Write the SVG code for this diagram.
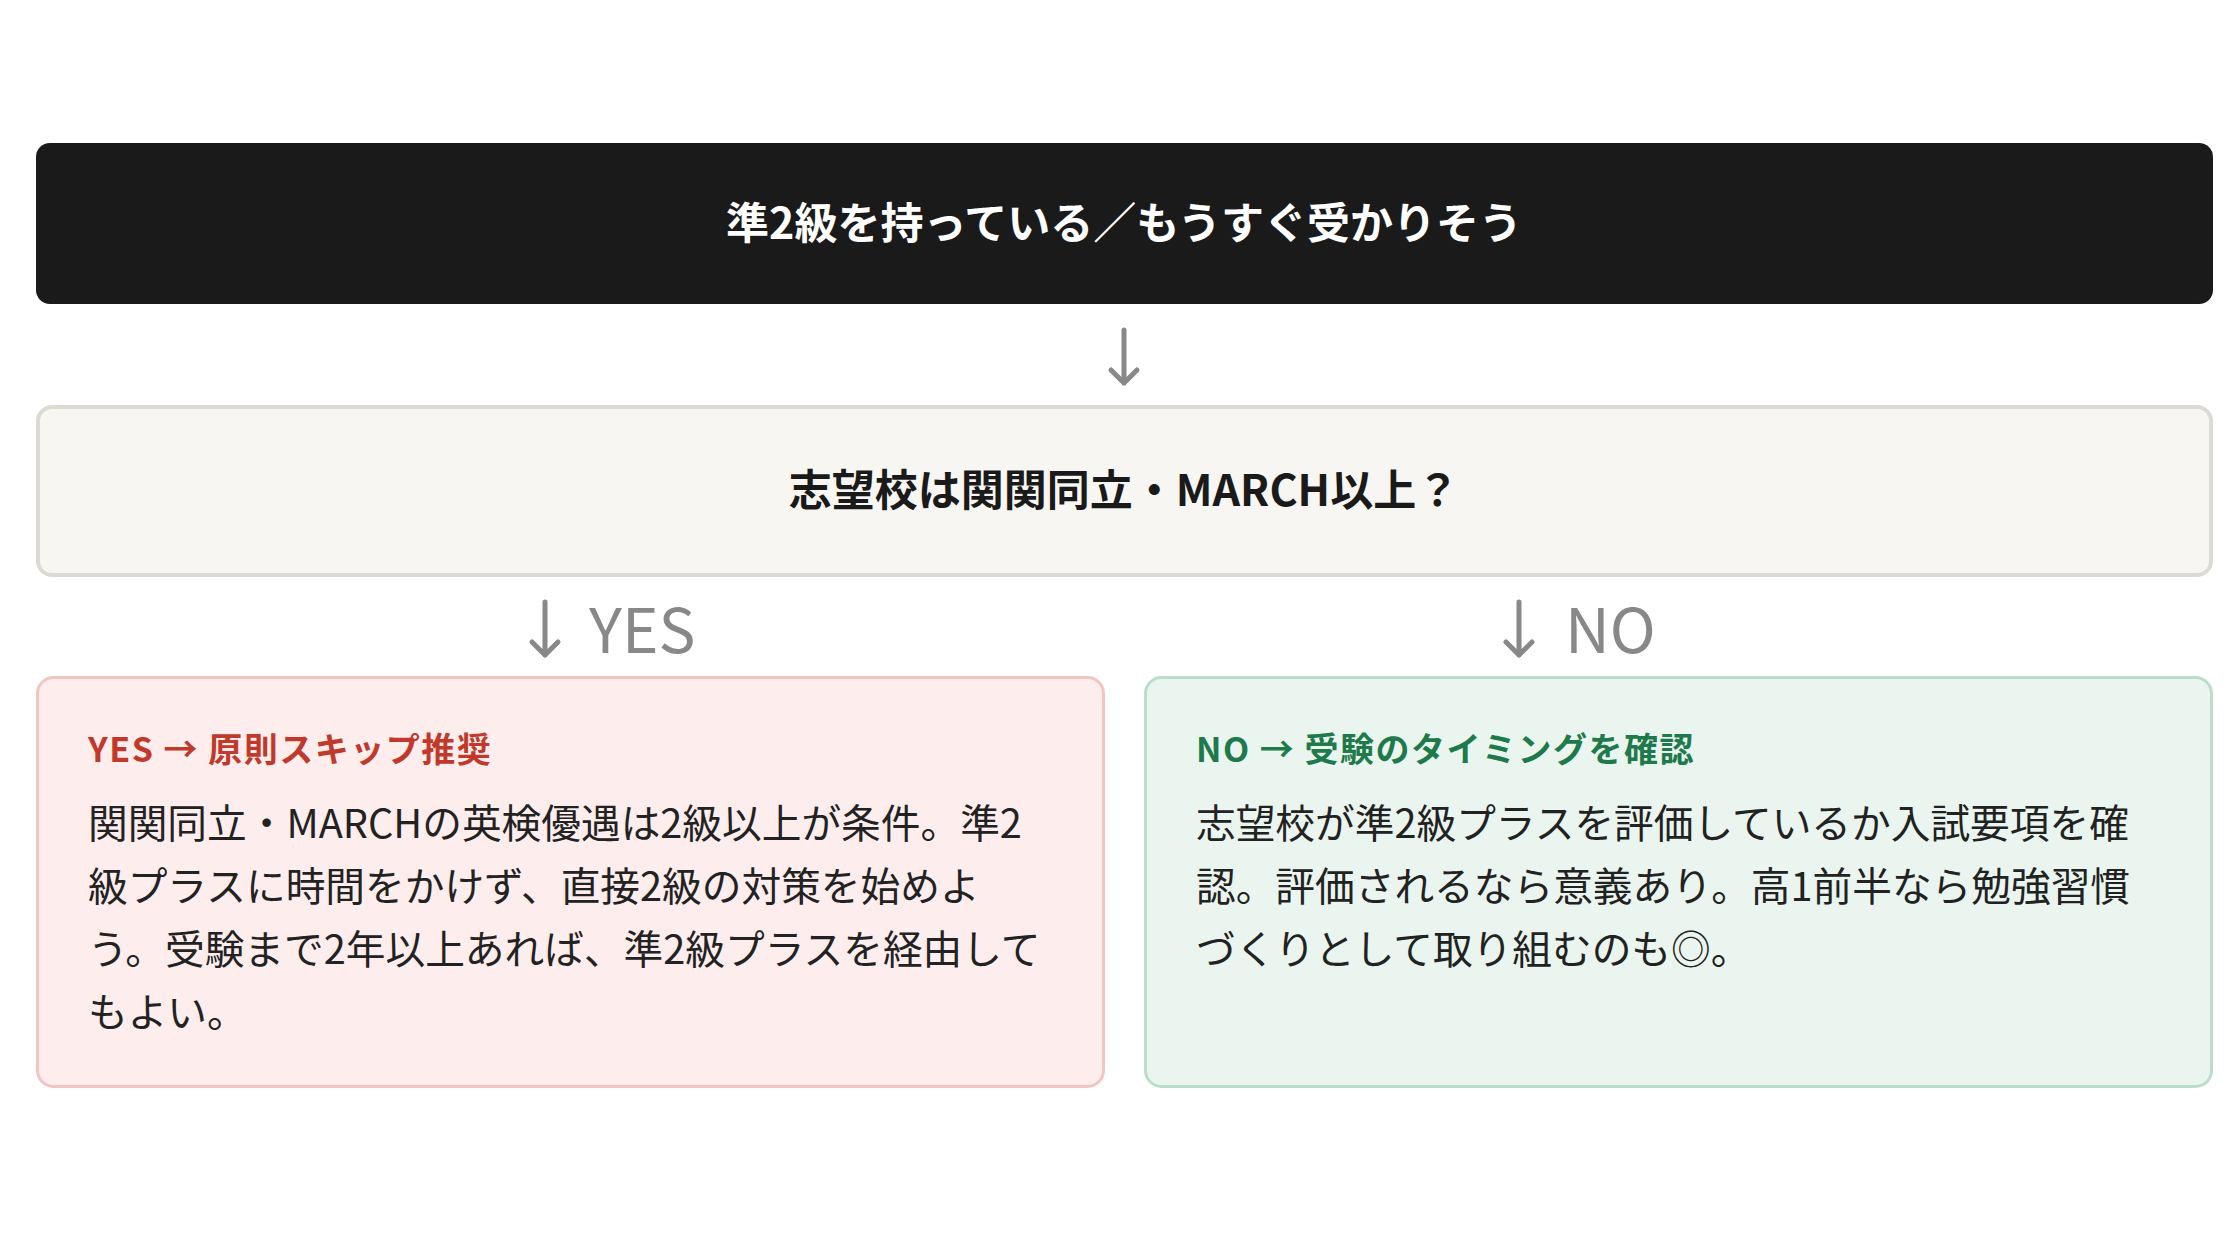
<svg xmlns="http://www.w3.org/2000/svg" width="2240" height="1260" viewBox="0 0 2240 1260">
<style>
text { font-family: "Noto Sans CJK JP", "Noto Sans", sans-serif; }
.head { font-size: 43px; font-weight: 700; fill: #ffffff; }
.q { font-size: 43px; font-weight: 700; fill: #1a1a1a; }
.lbl { font-size: 62px; fill: #888888; }
.ttl { font-size: 34px; font-weight: 700; letter-spacing: 1.5px; }
.body { font-size: 39.7px; fill: #222222; }
.conn { stroke: #888888; stroke-width: 5; fill: none; stroke-linecap: round; stroke-linejoin: round; }
</style>
<rect width="2240" height="1260" fill="#ffffff"/>
<g id="start">
<rect x="36" y="143" width="2177" height="161" rx="14" fill="#1a1a1a"/>
<text class="head" x="1124" y="239" text-anchor="middle">準2級を持っている／もうすぐ受かりそう</text>
</g>
<g id="question">
<rect x="38" y="407" width="2173" height="168" rx="14" fill="#f7f6f2" stroke="#dcdad4" stroke-width="4"/>
<text class="q" x="1124" y="506" text-anchor="middle">志望校は関関同立・MARCH以上？</text>
</g>
<g id="connectors">
<path class="conn" d="M1124 330 V383 M1111 370 L1124 383 L1137 370"/>
<path class="conn" d="M545 602 V655 M532 642 L545 655 L558 642"/>
<path class="conn" d="M1519 602 V655 M1506 642 L1519 655 L1532 642"/>
<text class="lbl" x="589" y="653">YES</text>
<text class="lbl" x="1565" y="653">NO</text>
</g>
<g id="yes">
<rect x="37.5" y="677.5" width="1066" height="409" rx="16" fill="#fdeded" stroke="#f2c5c5" stroke-width="3"/>
<text class="ttl" x="88" y="762" fill="#c0392b">YES → 原則スキップ推奨</text>
<text class="body" x="88" y="838">関関同立・MARCHの英検優遇は2級以上が条件。準2</text>
<text class="body" x="88" y="901">級プラスに時間をかけず、直接2級の対策を始めよ</text>
<text class="body" x="88" y="964">う。受験まで2年以上あれば、準2級プラスを経由して</text>
<text class="body" x="88" y="1027">もよい。</text>
</g>
<g id="no">
<rect x="1145.5" y="677.5" width="1066" height="409" rx="16" fill="#eaf5ef" stroke="#b9dfca" stroke-width="3"/>
<text class="ttl" x="1196" y="762" fill="#1e7a4a">NO → 受験のタイミングを確認</text>
<text class="body" x="1196" y="838">志望校が準2級プラスを評価しているか入試要項を確</text>
<text class="body" x="1196" y="901">認。評価されるなら意義あり。高1前半なら勉強習慣</text>
<text class="body" x="1196" y="964">づくりとして取り組むのも◎。</text>
</g>
</svg>
